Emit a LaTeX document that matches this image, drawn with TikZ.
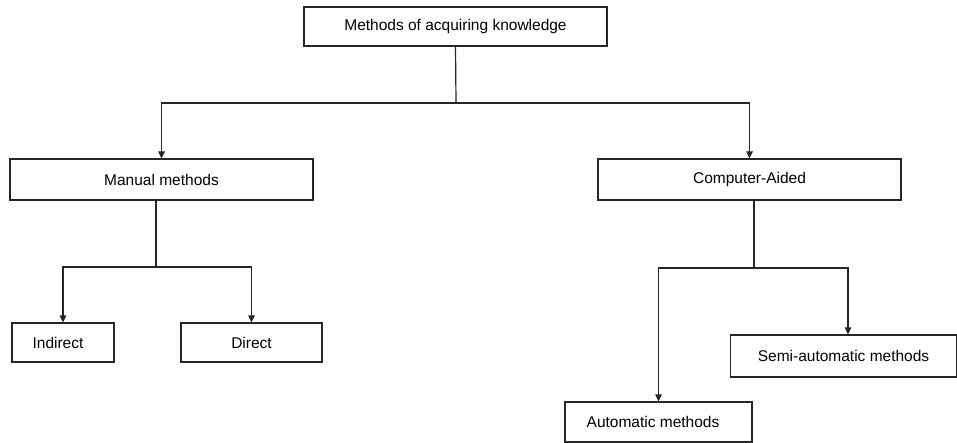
\documentclass[tikz,border=0pt]{standalone}
\usepackage{fontspec}
\setmainfont{Liberation Sans}
\usetikzlibrary{arrows.meta}
\begin{document}
\begin{tikzpicture}[x=1pt,y=-1pt,
  box/.style={draw=black!85,line width=1.2pt,rectangle,inner sep=0pt,
              font=\fontsize{15.5}{18}\selectfont,text=black},
  link/.style={draw=black!85,line width=1.2pt},
  arr/.style={link,-{Triangle[width=6.5pt,length=7pt]}}]
\useasboundingbox (0,0) rectangle (957,443);
% boxes
\node[box,minimum width=303pt,minimum height=39pt] (top) at (455.5,26.5) {Methods of acquiring knowledge};
\node[box,minimum width=303pt,minimum height=41pt] (manual) at (161.5,179.5) {Manual methods};
\node[box,minimum width=303pt,minimum height=41pt] (comp) at (749.5,179.5) {Computer-Aided};
\node[box,minimum width=102pt,minimum height=39pt] (indirect) at (63,342.5) {\hspace*{-10pt}Indirect};
\node[box,minimum width=141pt,minimum height=39pt] (direct) at (251.5,342.5) {Direct};
\node[box,minimum width=226pt,minimum height=42pt] (semi) at (843.5,356) {Semi-automatic methods};
\node[box,minimum width=187pt,minimum height=40pt] (auto) at (658.5,422) {\hspace*{-11pt}Automatic methods};
% junction points
\coordinate (tj) at (456,103);
\coordinate (mj) at (156,267);
\coordinate (cj) at (754,268);
\coordinate (sj) at (848,268);
% connectors
\draw[link] (top.south) -- (tj);
\draw[arr] (tj) -| (manual.north);
\draw[arr] (tj) -| (comp.north);
\draw[link] (manual.south -| mj) -- (mj);
\draw[arr] (mj) -| (indirect.north);
\draw[arr] (mj) -| (direct.north);
\draw[link] (comp.south -| cj) -- (cj);
\draw[arr] (cj) -| (auto.north);
\draw[arr] (cj) -- (sj) -- (sj |- semi.north);
\end{tikzpicture}
\end{document}
